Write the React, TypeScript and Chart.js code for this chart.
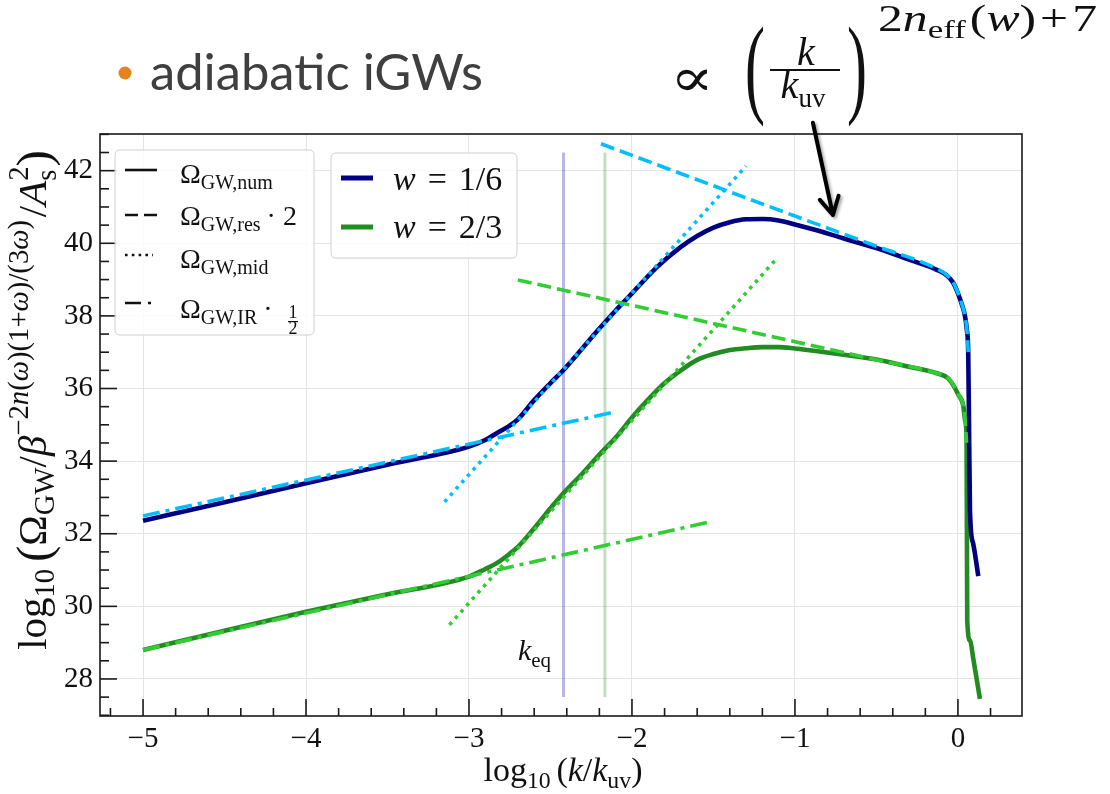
import React, { useEffect, useRef } from 'react';
import { Chart, registerables } from 'chart.js';

Chart.register(...registerables);

// ---------- data ----------
const xTickValues = [-5, -4, -3, -2, -1, 0];
const yTickValues = [28, 30, 32, 34, 36, 38, 40, 42];
const xMinorStep = 0.2;
const yMinorStep = 0.5;

// w = 1/6 numerical result
const numBlueX = [-5, -4.5, -4, -3.5, -3, -2.9, -2.83, -2.75, -2.7, -2.6, -2.5, -2.42, -2.3, -2.2, -2.1, -2.0, -1.85, -1.7, -1.6, -1.5, -1.4, -1.3, -1.2, -1.1, -1.0, -0.85, -0.7, -0.5, -0.3, -0.13, -0.07, -0.03, 0.0, 0.025, 0.043, 0.055, 0.063, 0.068, 0.074, 0.094, 0.125];
const numBlueY = [32.36, 32.87, 33.39, 33.9, 34.4, 34.58, 34.77, 34.98, 35.15, 35.68, 36.15, 36.51, 37.13, 37.65, 38.15, 38.62, 39.33, 39.9, 40.2, 40.43, 40.58, 40.66, 40.67, 40.63, 40.52, 40.34, 40.13, 39.87, 39.55, 39.27, 39.12, 38.92, 38.62, 38.3, 38.0, 37.6, 37.0, 35.0, 32.6, 31.72, 30.83];

// w = 2/3 numerical result
const numGreenX = [-5, -4.5, -4, -3.5, -3, -2.9, -2.83, -2.75, -2.7, -2.6, -2.5, -2.44, -2.3, -2.2, -2.1, -2.0, -1.9, -1.8, -1.7, -1.6, -1.5, -1.4, -1.3, -1.2, -1.1, -1.0, -0.85, -0.7, -0.5, -0.3, -0.13, -0.06, -0.03, 0.0, 0.033, 0.045, 0.053, 0.055, 0.057, 0.075, 0.094, 0.135];
const numGreenY = [28.8, 29.33, 29.85, 30.33, 30.82, 31.03, 31.19, 31.45, 31.64, 32.15, 32.7, 33.02, 33.68, 34.18, 34.65, 35.2, 35.7, 36.15, 36.5, 36.79, 36.95, 37.06, 37.11, 37.14, 37.14, 37.1, 37.02, 36.93, 36.8, 36.6, 36.42, 36.28, 36.1, 35.85, 35.52, 35.1, 34.6, 32.0, 29.61, 29.05, 28.56, 27.45];

// analytic approximations, w = 1/6
const resBlueX = [-2.19, -1.0, -0.5, -0.13, -0.07, -0.03, 0.0, 0.025, 0.043, 0.055, 0.063];
const resBlueY = [42.74, 40.75, 39.92, 39.3, 39.13, 38.93, 38.63, 38.31, 38.0, 37.6, 37.0];
const midBlueX = [-3.15, -1.3];
const midBlueY = [32.88, 42.13];
const irBlueX = [-5, -2.1];
const irBlueY = [32.49, 35.36];

// analytic approximations, w = 2/3
const resGreenX = [-2.7, -1.0, -0.5, -0.13, -0.06, -0.03, 0.0, 0.033, 0.045, 0.053];
const resGreenY = [38.99, 37.29, 36.79, 36.42, 36.29, 36.11, 35.86, 35.53, 35.1, 34.5];
const midGreenX = [-3.12, -1.11];
const midGreenY = [29.49, 39.59];
const irGreenX = [-5, -1.52];
const irGreenY = [28.8, 32.33];

// k_eq markers
const kEqBlueX = [-2.42, -2.42];
const kEqGreenX = [-2.166, -2.166];
const kEqY = [27.5, 42.5];
const kEqLabelX = [-2.7];
const kEqLabelY = [28.52];

// arrow (start, tip) in data coordinates
const arrowX = [-0.89, -0.767];
const arrowY = [43.32, 40.78];

// ---------- styling ----------
const NAVY = '#000080';
const FOREST = '#228B22';
const SKY = '#00BFFF';
const LIME = '#32CD32';
const SERIF = '"Liberation Serif", "Times New Roman", serif';

type Run = { t: string; s: number; i?: boolean; dy?: number; f?: string; dx?: number; stack?: boolean };

const fontOf = (r: Run, k: number) => `${r.i ? 'italic ' : ''}${r.s * k}px ${r.f || SERIF}`;

function runsWidth(ctx: CanvasRenderingContext2D, runs: Run[], k: number) {
  let lastStart = 0;
  let maxEnd = 0;
  for (const r of runs) {
    ctx.font = fontOf(r, k);
    const w = ctx.measureText(r.t).width;
    const start = r.stack ? lastStart : maxEnd + (r.dx || 0) * k;
    lastStart = start;
    maxEnd = Math.max(maxEnd, start + w);
  }
  return maxEnd;
}

function drawRuns(
  ctx: CanvasRenderingContext2D,
  runs: Run[],
  x: number,
  y: number,
  opt: { align?: 'left' | 'center' | 'right'; width?: number; stretch?: boolean; color?: string } = {}
) {
  let k = 1;
  let sx = 1;
  if (opt.width) {
    const nat = runsWidth(ctx, runs, 1);
    if (opt.stretch) sx = opt.width / nat;
    else k = opt.width / nat;
  }
  const W = runsWidth(ctx, runs, k) * sx;
  const x0 = opt.align === 'center' ? x - W / 2 : opt.align === 'right' ? x - W : x;
  ctx.save();
  ctx.translate(x0, y);
  ctx.scale(sx, 1);
  ctx.fillStyle = opt.color || '#111';
  ctx.textBaseline = 'alphabetic';
  ctx.textAlign = 'left';
  let lastStart = 0;
  let maxEnd = 0;
  for (const r of runs) {
    ctx.font = fontOf(r, k);
    const w = ctx.measureText(r.t).width;
    const start = r.stack ? lastStart : maxEnd + (r.dx || 0) * k;
    ctx.fillText(r.t, start, (r.dy || 0) * k);
    lastStart = start;
    maxEnd = Math.max(maxEnd, start + w);
  }
  ctx.restore();
}

function seg(ctx: CanvasRenderingContext2D, x1: number, y1: number, x2: number, y2: number, color: string, w: number, dash: number[] = []) {
  ctx.beginPath();
  ctx.setLineDash(dash);
  ctx.lineWidth = w;
  ctx.strokeStyle = color;
  ctx.lineCap = 'butt';
  ctx.moveTo(x1, y1);
  ctx.lineTo(x2, y2);
  ctx.stroke();
  ctx.setLineDash([]);
}

function roundRect(ctx: CanvasRenderingContext2D, x: number, y: number, w: number, h: number, r: number) {
  ctx.beginPath();
  ctx.moveTo(x + r, y);
  ctx.lineTo(x + w - r, y);
  ctx.quadraticCurveTo(x + w, y, x + w, y + r);
  ctx.lineTo(x + w, y + h - r);
  ctx.quadraticCurveTo(x + w, y + h, x + w - r, y + h);
  ctx.lineTo(x + r, y + h);
  ctx.quadraticCurveTo(x, y + h, x, y + h - r);
  ctx.lineTo(x, y + r);
  ctx.quadraticCurveTo(x, y, x + r, y);
  ctx.closePath();
}

const fmtTick = (v: number) => (v < 0 ? '\u2212' + Math.abs(v) : String(v));

const pts = (xs: number[], ys: number[]) => xs.map((x, i) => ({ x, y: ys[i] }));

function ds(label: string, xs: number[], ys: number[], color: string, width: number, dash: number[], smooth: boolean) {
  return {
    label,
    data: pts(xs, ys),
    showLine: true,
    borderColor: color,
    backgroundColor: color,
    borderWidth: width,
    borderDash: dash,
    borderCapStyle: 'butt',
    borderJoinStyle: 'round',
    pointRadius: 0,
    pointHoverRadius: 0,
    fill: false,
    tension: 0,
    cubicInterpolationMode: smooth ? 'monotone' : 'default',
  };
}

const annotations = {
  id: 'annotations',
  afterDraw(chart: any) {
    const { ctx, chartArea: a, scales } = chart;
    const xs = scales.x;
    const ys = scales.y;
    ctx.save();

    // inward ticks
    const isMajor = (v: number, arr: number[]) => arr.some((m) => Math.abs(m - v) < 1e-6);
    for (let i = Math.ceil(xs.min / xMinorStep); i * xMinorStep <= xs.max + 1e-9; i++) {
      const v = i * xMinorStep;
      const px = xs.getPixelForValue(v);
      const len = isMajor(v, xTickValues) ? 17 : 8;
      seg(ctx, px, a.bottom, px, a.bottom - len, '#1a1a1a', 1.6);
    }
    for (let i = Math.ceil(ys.min / yMinorStep); i * yMinorStep <= ys.max + 1e-9; i++) {
      const v = i * yMinorStep;
      const py = ys.getPixelForValue(v);
      const len = isMajor(v, yTickValues) ? 17 : 9;
      seg(ctx, a.left, py, a.left + len, py, '#1a1a1a', 1.6);
    }
    ctx.strokeStyle = '#1a1a1a';
    ctx.lineWidth = 1.6;
    ctx.strokeRect(a.left, a.top, a.right - a.left, a.bottom - a.top);

    // legend 1 (line styles)
    const L = a.left;
    const T = a.top;
    roundRect(ctx, L + 15, T + 16, 199, 185, 5);
    ctx.fillStyle = 'rgba(255,255,255,0.85)';
    ctx.fill();
    ctx.strokeStyle = '#d0d0d0';
    ctx.lineWidth = 1;
    ctx.stroke();
    seg(ctx, L + 25, T + 36, L + 57, T + 36, '#111', 2.6);
    seg(ctx, L + 25, T + 81, L + 57, T + 81, '#111', 2.6, [13, 6]);
    seg(ctx, L + 25, T + 121, L + 53, T + 121, '#111', 2.6, [2.6, 4.2]);
    seg(ctx, L + 25, T + 169, L + 52, T + 169, '#111', 2.6, [16, 7, 3, 20]);

    drawRuns(ctx, [{ t: 'Ω', s: 28 }, { t: 'GW,num', s: 20, dy: 6 }], L + 80, T + 49);
    drawRuns(ctx, [{ t: 'Ω', s: 28 }, { t: 'GW,res', s: 20, dy: 6 }, { t: '· 2', s: 28, dx: 6 }], L + 80, T + 91);
    drawRuns(ctx, [{ t: 'Ω', s: 28 }, { t: 'GW,mid', s: 20, dy: 6 }], L + 80, T + 134);
    drawRuns(ctx, [{ t: 'Ω', s: 28 }, { t: 'GW,IR', s: 20, dy: 6 }, { t: '·', s: 28, dx: 6 }], L + 80, T + 184);
    drawRuns(ctx, [{ t: '1', s: 18 }], L + 193, T + 184, { align: 'center' });
    ctx.fillStyle = '#111';
    ctx.fillRect(L + 188, T + 187, 10, 1.2);
    drawRuns(ctx, [{ t: '2', s: 18 }], L + 193, T + 200, { align: 'center' });

    // legend 2 (series)
    roundRect(ctx, L + 231, T + 19, 186, 105, 5);
    ctx.fillStyle = 'rgba(255,255,255,0.85)';
    ctx.fill();
    ctx.strokeStyle = '#d0d0d0';
    ctx.lineWidth = 1;
    ctx.stroke();
    seg(ctx, L + 241, T + 44, L + 273, T + 44, NAVY, 5);
    seg(ctx, L + 241, T + 93, L + 273, T + 93, FOREST, 5);
    drawRuns(ctx, [{ t: 'w', s: 34, i: true }, { t: '=', s: 34, dx: 12 }, { t: '1/6', s: 34, dx: 12 }], L + 293, T + 56);
    drawRuns(ctx, [{ t: 'w', s: 34, i: true }, { t: '=', s: 34, dx: 12 }, { t: '2/3', s: 34, dx: 12 }], L + 293, T + 104);

    // k_eq label
    drawRuns(ctx, [{ t: 'k', s: 30, i: true }, { t: 'eq', s: 21, dy: 7 }], xs.getPixelForValue(kEqLabelX[0]), ys.getPixelForValue(kEqLabelY[0]));

    // axis titles
    drawRuns(
      ctx,
      [
        { t: 'log', s: 30 },
        { t: '10', s: 21, dy: 6 },
        { t: '(', s: 30, dx: 5 },
        { t: 'k', s: 30, i: true },
        { t: '/', s: 30 },
        { t: 'k', s: 30, i: true },
        { t: 'uv', s: 21, dy: 6 },
        { t: ')', s: 30 },
      ],
      (a.left + a.right) / 2 + 2,
      781,
      { align: 'center', width: 159 }
    );

    ctx.save();
    ctx.translate(46, (a.top + a.bottom) / 2 - 25);
    ctx.rotate(-Math.PI / 2);
    drawRuns(
      ctx,
      [
        { t: 'log', s: 30 },
        { t: '10', s: 21, dy: 6 },
        { t: '(', s: 36, dx: 5, dy: 3 },
        { t: 'Ω', s: 30 },
        { t: 'GW', s: 21, dy: 6 },
        { t: '/', s: 30 },
        { t: 'β', s: 30, i: true },
        { t: '\u22122', s: 21, dy: -13 },
        { t: 'n', s: 21, i: true, dy: -13 },
        { t: '(', s: 21, dy: -13 },
        { t: 'ω', s: 21, i: true, dy: -13 },
        { t: ')(1+', s: 21, dy: -13 },
        { t: 'ω', s: 21, i: true, dy: -13 },
        { t: ')/(3', s: 21, dy: -13 },
        { t: 'ω', s: 21, i: true, dy: -13 },
        { t: ')', s: 21, dy: -13 },
        { t: '/', s: 30, dx: 2 },
        { t: 'A', s: 30, i: true },
        { t: '2', s: 21, dy: -13 },
        { t: 's', s: 21, dy: 7, stack: true },
        { t: ')', s: 36, dy: 3 },
      ],
      0,
      0,
      { align: 'center', width: 500 }
    );
    ctx.restore();

    // slide title
    ctx.beginPath();
    ctx.fillStyle = '#E8821E';
    ctx.arc(125, 73, 6.5, 0, Math.PI * 2);
    ctx.fill();
    drawRuns(ctx, [{ t: 'adiabatic iGWs', s: 46, f: 'Lato, "Open Sans", sans-serif' }], 150, 90, { width: 333, color: '#3f3f3f' });

    // formula
    drawRuns(ctx, [{ t: '∝', s: 54, f: '"DejaVu Serif", serif' }], 670, 96, { width: 44, stretch: true });
    ctx.save();
    ctx.fillStyle = '#111';
    ctx.font = `60px ${SERIF}`;
    ctx.translate(745, 103);
    ctx.scale(1, 1.85);
    ctx.fillText('(', 0, 0);
    ctx.restore();
    ctx.save();
    ctx.fillStyle = '#111';
    ctx.font = `60px ${SERIF}`;
    ctx.translate(847, 103);
    ctx.scale(1, 1.85);
    ctx.fillText(')', 0, 0);
    ctx.restore();
    drawRuns(ctx, [{ t: 'k', s: 40, i: true }], 806, 65, { align: 'center' });
    ctx.fillStyle = '#111';
    ctx.fillRect(770, 69, 70, 2);
    drawRuns(ctx, [{ t: 'k', s: 40, i: true }, { t: 'uv', s: 27, dy: 9 }], 803, 98, { align: 'center' });
    drawRuns(
      ctx,
      [
        { t: '2', s: 37 },
        { t: 'n', s: 37, i: true },
        { t: 'eff', s: 26, dy: 7 },
        { t: '(', s: 37, dx: 3 },
        { t: 'w', s: 37, i: true },
        { t: ')', s: 37 },
        { t: '+', s: 37, dx: 3 },
        { t: '7', s: 37, dx: 3 },
      ],
      878,
      31,
      { width: 219, stretch: true }
    );

    // arrow
    const x1 = xs.getPixelForValue(arrowX[0]);
    const y1 = ys.getPixelForValue(arrowY[0]);
    const x2 = xs.getPixelForValue(arrowX[1]);
    const y2 = ys.getPixelForValue(arrowY[1]);
    const ang = Math.atan2(y2 - y1, x2 - x1);
    ctx.save();
    ctx.shadowColor = 'rgba(0,0,0,0.35)';
    ctx.shadowOffsetX = 2;
    ctx.shadowOffsetY = 2;
    ctx.shadowBlur = 3;
    ctx.strokeStyle = '#000';
    ctx.lineWidth = 4;
    ctx.lineCap = 'round';
    ctx.lineJoin = 'round';
    ctx.beginPath();
    ctx.moveTo(x1, y1);
    ctx.lineTo(x2, y2);
    const hl = 20;
    ctx.moveTo(x2 - hl * Math.cos(ang - 0.5), y2 - hl * Math.sin(ang - 0.5));
    ctx.lineTo(x2, y2);
    ctx.lineTo(x2 - hl * Math.cos(ang + 0.5), y2 - hl * Math.sin(ang + 0.5));
    ctx.stroke();
    ctx.restore();

    ctx.restore();
  },
};

export default function App() {
  const canvasRef = useRef<HTMLCanvasElement | null>(null);

  useEffect(() => {
    if (!canvasRef.current) return;
    const datasets: any[] = [
      ds('res 1/6', resBlueX, resBlueY, SKY, 3.6, [14, 6], true),
      ds('mid 1/6', midBlueX, midBlueY, SKY, 3.6, [3.5, 5], false),
      ds('IR 1/6', irBlueX, irBlueY, SKY, 3.6, [17, 6, 4, 6], false),
      ds('res 2/3', resGreenX, resGreenY, LIME, 3.6, [14, 6], true),
      ds('mid 2/3', midGreenX, midGreenY, LIME, 3.6, [3.5, 5], false),
      ds('IR 2/3', irGreenX, irGreenY, LIME, 3.6, [17, 6, 4, 6], false),
      ds('w = 1/6', numBlueX, numBlueY, NAVY, 4.6, [], true),
      ds('w = 2/3', numGreenX, numGreenY, FOREST, 4.6, [], true),
      ds('k_eq 1/6', kEqBlueX, kEqY, 'rgba(20,20,170,0.3)', 3, [], false),
      ds('k_eq 2/3', kEqGreenX, kEqY, 'rgba(34,139,34,0.28)', 3, [], false),
    ];
    const tickFont = { family: SERIF, size: 29 };
    const chart = new Chart(canvasRef.current, {
      type: 'scatter',
      data: { datasets },
      options: {
        animation: false,
        responsive: false,
        devicePixelRatio: 1,
        layout: { padding: { left: 0, right: 88, top: 134, bottom: 0 } },
        plugins: { legend: { display: false }, tooltip: { enabled: false } },
        events: [],
        scales: {
          x: {
            type: 'linear',
            min: -5.264,
            max: 0.393,
            afterBuildTicks: (s: any) => {
              s.ticks = xTickValues.map((v) => ({ value: v }));
            },
            afterFit: (s: any) => {
              s.height = 78;
            },
            grid: { color: '#e4e4e4', lineWidth: 1, drawTicks: false },
            border: { display: false },
            ticks: {
              font: tickFont,
              color: '#111',
              padding: 6,
              maxRotation: 0,
              autoSkip: false,
              callback: (v: any) => fmtTick(Number(v)),
            },
          },
          y: {
            type: 'linear',
            min: 26.98,
            max: 43.01,
            afterBuildTicks: (s: any) => {
              s.ticks = yTickValues.map((v) => ({ value: v }));
            },
            afterFit: (s: any) => {
              s.width = 100;
            },
            grid: { color: '#e4e4e4', lineWidth: 1, drawTicks: false },
            border: { display: false },
            ticks: {
              font: tickFont,
              color: '#111',
              padding: 7,
              autoSkip: false,
              callback: (v: any) => fmtTick(Number(v)),
            },
          },
        },
      } as any,
      plugins: [annotations as any],
    });
    return () => chart.destroy();
  }, []);

  return (
    <div style={{ position: 'absolute', left: 0, top: 0, width: 1110, height: 794, background: '#fff' }}>
      <canvas ref={canvasRef} width={1110} height={794} style={{ display: 'block', width: 1110, height: 794 }} />
    </div>
  );
}
